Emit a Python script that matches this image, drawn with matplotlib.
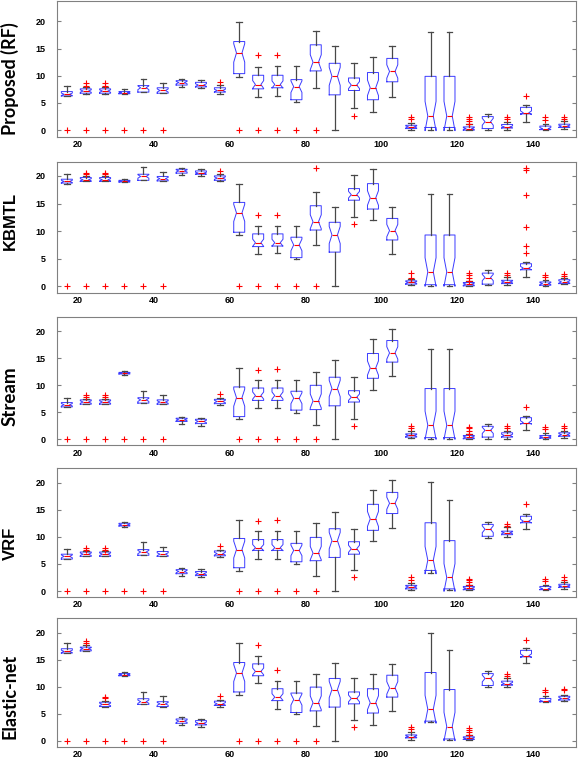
import numpy as np
import matplotlib
matplotlib.use("Agg")
import matplotlib.pyplot as plt

plt.rcParams['font.family'] = ['Liberation Sans', 'DejaVu Sans']
plt.rcParams['font.weight'] = 'bold'

# x positions of the 27 boxes
positions = [17.0, 22.0, 27.1, 32.2, 37.2, 42.3, 47.3, 52.4, 57.4, 62.5, 67.5, 72.6, 77.6, 82.7,
             87.7, 92.8, 97.8, 102.9, 107.9, 113.0, 118.0, 123.1, 128.1, 133.2, 138.2, 143.3, 148.3]
xticks = [20, 40, 60, 80, 100, 120, 140]
yticks = [0, 5, 10, 15, 20]

# Proposed (RF)
rf_lo = [6.2, 6.7, 6.7, 6.7, 7.0, 6.8, 7.95, 7.7, 6.7, 9.8, 6.1, 6.2, 5.2, 7.8, 0.0, 4.0, 3.4, 6.1, 0.1, 0.1, 0.1, 0.0, 0.1, 0.1, 1.55, 0.05, 0.3]
rf_q1 = [6.3, 6.8, 6.8, 6.7, 7.0, 6.8, 8.3, 7.95, 7.0, 10.4, 7.6, 7.8, 5.6, 10.9, 6.5, 7.3, 5.6, 8.9, 0.3, 0.5, 0.5, 0.0, 0.3, 0.4, 3.0, 0.1, 0.5]
rf_med = [6.6, 7.2, 7.2, 6.9, 7.8, 7.3, 8.75, 8.3, 7.3, 14.2, 8.4, 8.4, 8.0, 12.5, 9.9, 8.3, 7.8, 10.8, 0.6, 2.6, 2.6, 0.3, 1.55, 0.6, 3.2, 0.3, 0.75]
rf_q3 = [7.1, 7.6, 7.6, 7.1, 8.2, 7.8, 9.1, 8.8, 7.8, 16.3, 10.1, 10.1, 9.3, 15.7, 12.3, 9.6, 10.6, 13.2, 0.9, 9.9, 9.9, 0.6, 2.5, 1.05, 4.2, 0.75, 1.1]
rf_hi = [8.2, 7.9, 7.9, 7.6, 9.5, 8.7, 9.5, 9.2, 8.3, 19.9, 11.7, 11.8, 11.8, 18.2, 15.5, 12.3, 13.4, 15.5, 1.4, 18.0, 18.0, 1.1, 3.0, 1.55, 4.65, 1.1, 1.6]
rf_out = [[0], [0, 8.2, 8.6], [0, 8.2, 8.6], [0], [0], [0], [], [], [8.8], [0], [0, 13.8], [0, 13.8], [0], [0], [],
          [2.6], [], [], [2.0, 2.5], [], [], [1.2, 1.6, 2.0, 2.4], [], [2.0, 2.4], [6.3], [1.9, 2.4], [2.1, 2.5]]

# KBMTL
kb_lo = [18.6, 19.0, 19.0, 18.9, 19.2, 19.1, 20.1, 20.0, 19.0, 9.3, 5.8, 6.0, 5.0, 7.4, 0.0, 12.5, 12.0, 5.8, 0.2, 0.1, 0.1, 0.1, 0.2, 0.2, 1.7, 0.1, 0.4]
kb_q1 = [18.7, 19.0, 19.0, 18.9, 19.2, 19.1, 20.5, 20.3, 19.2, 9.8, 7.2, 7.3, 5.2, 10.2, 6.2, 15.6, 14.0, 8.4, 0.4, 0.3, 0.3, 0.1, 0.4, 0.5, 3.0, 0.2, 0.5]
kb_med = [19.0, 19.3, 19.3, 19.0, 19.9, 19.5, 20.9, 20.5, 19.6, 13.3, 7.9, 7.9, 7.5, 11.7, 9.3, 16.6, 16.0, 10.1, 0.7, 2.6, 2.6, 0.4, 1.6, 0.8, 3.3, 0.5, 0.8]
kb_q3 = [19.4, 19.7, 19.7, 19.2, 20.3, 19.9, 21.2, 20.9, 20.0, 15.2, 9.5, 9.5, 8.9, 14.6, 11.6, 17.7, 18.6, 12.3, 1.0, 9.3, 9.3, 0.7, 2.4, 1.1, 4.1, 0.8, 1.2]
kb_hi = [20.3, 19.9, 19.9, 19.5, 21.6, 20.7, 21.5, 21.2, 20.4, 18.6, 11.0, 11.0, 11.0, 17.0, 14.4, 20.2, 21.3, 14.4, 1.4, 16.8, 16.8, 0.9, 2.9, 1.7, 4.5, 1.1, 1.5]
kb_out = [[0], [0, 20.3, 20.6], [0, 20.3, 20.6], [0], [0], [0], [], [], [20.9], [0], [0, 12.9], [0, 13.0], [0], [0, 21.5], [],
          [11.3], [], [], [1.5, 2.4], [], [], [1.0, 1.5, 2.0, 2.4], [], [2.0, 2.4], [6.0, 7.3, 10.8, 16.6, 21.1, 21.5], [1.7, 2.1], [1.8, 2.3]]

# Stream
st_lo = [6.0, 6.5, 6.5, 11.9, 6.7, 6.5, 2.8, 2.5, 6.4, 3.8, 5.8, 5.8, 4.9, 2.7, 0.0, 3.8, 9.2, 11.7, 0.2, 0.1, 0.1, 0.1, 0.1, 0.1, 1.65, 0.05, 0.3]
st_q1 = [6.0, 6.5, 6.5, 12.1, 6.7, 6.5, 3.3, 2.9, 6.6, 4.2, 7.2, 7.2, 5.4, 5.5, 6.2, 6.9, 11.3, 14.3, 0.4, 0.3, 0.3, 0.1, 0.4, 0.4, 2.9, 0.2, 0.55]
st_med = [6.4, 6.9, 6.9, 12.25, 7.3, 6.9, 3.6, 3.3, 7.0, 7.7, 8.1, 8.1, 7.6, 7.1, 9.4, 7.8, 13.2, 16.0, 0.7, 2.6, 2.6, 0.4, 1.65, 0.7, 3.1, 0.4, 0.85]
st_q3 = [6.8, 7.3, 7.3, 12.4, 7.7, 7.3, 3.9, 3.7, 7.4, 9.7, 9.5, 9.5, 8.9, 10.0, 11.5, 9.0, 15.9, 18.3, 1.0, 9.4, 9.4, 0.7, 2.4, 1.2, 4.0, 0.7, 1.2]
st_hi = [7.7, 7.5, 7.5, 12.7, 9.0, 8.2, 4.2, 4.0, 7.7, 13.2, 11.0, 11.0, 11.0, 12.4, 14.6, 11.5, 18.6, 20.4, 1.5, 16.7, 16.7, 0.9, 2.9, 1.5, 4.4, 1.2, 1.5]
st_out = [[0], [0, 7.8, 8.2], [0, 7.8, 8.2], [0], [0], [0], [], [], [8.3], [0], [0, 12.9], [0, 13.0], [0], [0], [],
          [2.5], [], [], [2.0, 2.5], [], [], [1.0, 1.5, 2.0, 2.3], [], [2.0, 2.4], [6.0], [1.85, 2.3], [2.0, 2.4]]

# VRF
vr_lo = [5.9, 6.4, 6.4, 11.9, 6.6, 6.4, 2.85, 2.6, 6.3, 3.7, 5.9, 5.9, 4.9, 2.7, 0.0, 3.8, 9.3, 11.7, 0.25, 3.3, 0.25, 0.25, 9.8, 10.0, 11.4, 0.15, 0.45]
vr_q1 = [5.9, 6.4, 6.4, 12.0, 6.6, 6.4, 3.2, 2.85, 6.5, 4.3, 7.5, 7.5, 5.4, 5.6, 6.2, 6.8, 11.2, 14.3, 0.4, 3.8, 0.4, 0.25, 10.1, 10.4, 12.6, 0.25, 0.7]
vr_med = [6.4, 6.8, 6.8, 12.2, 7.2, 6.8, 3.6, 3.2, 6.9, 7.65, 8.0, 8.0, 7.5, 7.0, 9.3, 7.8, 13.3, 16.2, 0.75, 5.7, 2.5, 0.5, 11.4, 10.75, 12.9, 0.45, 0.9]
vr_q3 = [6.8, 7.2, 7.2, 12.5, 7.65, 7.3, 3.95, 3.6, 7.4, 9.7, 9.5, 9.5, 8.8, 9.9, 11.5, 9.1, 16.0, 18.2, 1.05, 12.6, 9.3, 0.85, 12.3, 11.05, 13.8, 0.85, 1.25]
vr_hi = [7.8, 7.4, 7.4, 12.8, 9.0, 8.2, 4.3, 4.0, 7.65, 13.1, 11.0, 11.0, 11.0, 12.5, 14.5, 11.5, 18.6, 20.5, 1.5, 20.1, 16.8, 1.2, 12.8, 11.85, 14.3, 1.2, 1.65]
vr_out = [[0], [0, 7.65, 8.0], [0, 7.65, 8.0], [0], [0], [0], [], [], [8.3], [0], [0, 12.9], [0, 13.1], [0], [0], [],
          [2.5], [], [], [2.0, 2.5], [], [], [1.1, 1.6, 2.0, 2.3], [], [12.0, 12.3], [16.0], [1.85, 2.3], [2.1, 2.5]]

# Elastic-net
en_lo = [16.2, 16.6, 6.3, 12.0, 6.7, 6.3, 2.8, 2.6, 6.2, 8.5, 10.7, 5.9, 4.9, 2.7, 0.0, 3.8, 2.9, 5.5, 0.2, 3.35, 0.2, 0.2, 9.9, 9.9, 14.3, 7.1, 7.4]
en_q1 = [16.2, 16.6, 6.3, 12.0, 6.7, 6.3, 3.2, 2.9, 6.5, 9.0, 12.0, 7.4, 5.2, 5.5, 6.2, 6.8, 5.1, 8.05, 0.5, 3.6, 0.3, 0.2, 10.2, 10.25, 15.5, 7.2, 7.5]
en_med = [16.5, 17.0, 6.7, 12.2, 7.2, 6.8, 3.6, 3.2, 6.8, 12.5, 12.8, 8.05, 7.6, 7.0, 9.45, 7.8, 7.0, 9.75, 0.75, 5.8, 2.6, 0.4, 11.5, 10.55, 15.7, 7.3, 7.8]
en_q3 = [17.0, 17.3, 7.1, 12.4, 7.75, 7.2, 4.0, 3.7, 7.3, 14.45, 14.2, 9.6, 8.8, 9.9, 11.5, 9.0, 9.6, 12.1, 1.05, 12.6, 9.45, 0.7, 12.4, 11.0, 16.7, 7.8, 8.2]
en_hi = [18.0, 17.7, 7.3, 12.7, 9.0, 8.2, 4.3, 4.0, 7.6, 18.0, 15.7, 11.1, 11.1, 12.4, 14.45, 11.5, 12.3, 14.2, 1.65, 20.0, 16.8, 1.05, 12.8, 11.6, 17.2, 8.2, 8.5]
en_out = [[0], [0, 18.1, 18.4], [0, 7.8, 8.05], [0], [0], [0], [], [], [8.2], [0], [0, 17.7], [0, 13.0], [0], [0], [],
          [2.6], [], [], [2.1, 2.55], [], [], [1.0, 1.5, 1.9, 2.3], [], [12.0, 12.4], [18.7], [9.0, 9.45], [9.3, 9.6]]

# (label, font, size, label centre y in figure coords, data..., ylim)
panels = [
    ("Proposed (RF)", "Lato", 13, 0.897, rf_lo, rf_q1, rf_med, rf_q3, rf_hi, rf_out, (-1.25, 23.8)),
    ("KBMTL", "Liberation Sans", 12, 0.710, kb_lo, kb_q1, kb_med, kb_q3, kb_hi, kb_out, (-1.2, 22.5)),
    ("Stream", "Lato", 13.5, 0.480, st_lo, st_q1, st_med, st_q3, st_hi, st_out, (-1.1, 22.6)),
    ("VRF", "Liberation Sans", 12, 0.286, vr_lo, vr_q1, vr_med, vr_q3, vr_hi, vr_out, (-1.1, 22.7)),
    ("Elastic-net", "Lato", 13, 0.085, en_lo, en_q1, en_med, en_q3, en_hi, en_out, (-1.1, 22.7)),
]

# axes rectangles (left, bottom, width, height)
rects = [(0.0986, 0.820, 0.898, 0.179),
         (0.0986, 0.615, 0.898, 0.172),
         (0.0986, 0.415, 0.898, 0.168),
         (0.0986, 0.2155, 0.898, 0.1695),
         (0.0986, 0.019, 0.898, 0.169)]

n_obs = 30  # assumed sample size for the notch (1.57*IQR/sqrt(n))

fig = plt.figure(figsize=(5.78, 7.61), dpi=100)

for (name, fam, fsize, ylab, lo, q1, med, q3, hi, out, ylim), rect in zip(panels, rects):
    ax = fig.add_axes(rect)
    stats = []
    for i in range(len(positions)):
        ci = 1.57 * (q3[i] - q1[i]) / np.sqrt(n_obs)
        stats.append(dict(med=med[i], q1=q1[i], q3=q3[i], whislo=lo[i], whishi=hi[i],
                          fliers=out[i], cilo=med[i] - ci, cihi=med[i] + ci))
    ax.bxp(stats, positions=positions, widths=2.9, capwidths=1.5, shownotches=True,
           manage_ticks=False,
           boxprops=dict(color='#3b3bff', linewidth=0.7),
           whiskerprops=dict(color='#484848', linewidth=0.9),
           capprops=dict(color='#484848', linewidth=0.9),
           medianprops=dict(color='red', linewidth=0.8),
           flierprops=dict(marker='+', markeredgecolor='red', markersize=5,
                           markeredgewidth=0.8, linestyle='none'))
    ax.set_xlim(14.4, 151.4)
    ax.set_ylim(*ylim)
    ax.set_xticks(xticks)
    ax.set_yticks(yticks)
    ax.tick_params(axis='y', direction='in', length=3, right=True, labelsize=6.5,
                   pad=8, color='#808080')
    ax.tick_params(axis='x', length=0, pad=2.5, labelsize=6.5)
    for sp in ax.spines.values():
        sp.set_color('#808080')
        sp.set_linewidth(0.8)
    fig.text(0.018, ylab, name, rotation=90, ha='center', va='center',
             fontsize=fsize, fontweight='bold', family=[fam, 'DejaVu Sans'])

fig.savefig("out.png", dpi=100)
